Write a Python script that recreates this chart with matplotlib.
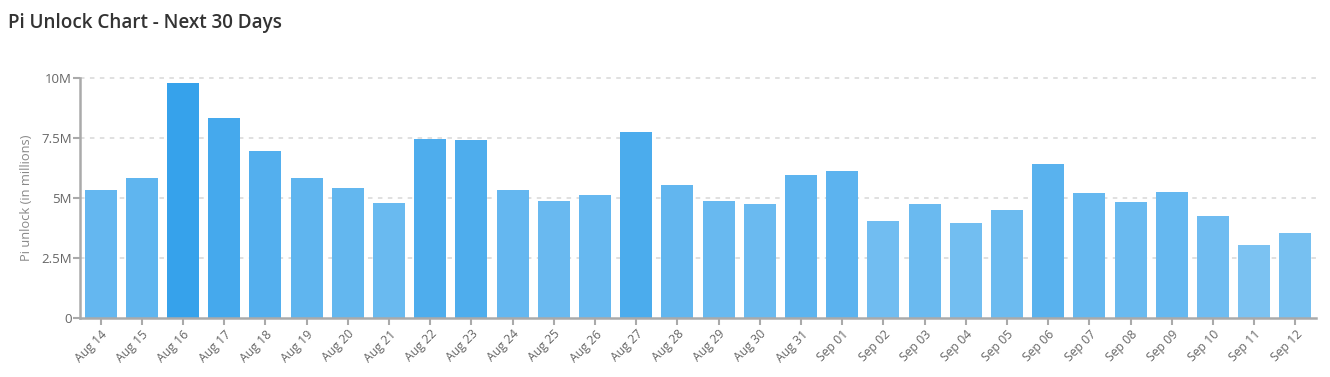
import numpy as np
import matplotlib.pyplot as plt
from matplotlib.ticker import FixedLocator

plt.rcParams['font.family'] = ['Open Sans', 'DejaVu Sans']

# dates and unlock amounts (millions of Pi)
days = ['Aug 14', 'Aug 15', 'Aug 16', 'Aug 17', 'Aug 18', 'Aug 19', 'Aug 20',
        'Aug 21', 'Aug 22', 'Aug 23', 'Aug 24', 'Aug 25', 'Aug 26', 'Aug 27',
        'Aug 28', 'Aug 29', 'Aug 30', 'Aug 31', 'Sep 01', 'Sep 02', 'Sep 03',
        'Sep 04', 'Sep 05', 'Sep 06', 'Sep 07', 'Sep 08', 'Sep 09', 'Sep 10',
        'Sep 11', 'Sep 12']
unlock = [5.33, 5.83, 9.79, 8.32, 6.97, 5.83, 5.40, 4.79, 7.47, 7.42,
          5.33, 4.86, 5.14, 7.75, 5.54, 4.89, 4.75, 5.96, 6.12, 4.04,
          4.74, 3.94, 4.50, 6.42, 5.19, 4.82, 5.24, 4.25, 3.04, 3.54]
yticks = [0, 2.5, 5, 7.5, 10]
ytick_labels = ['0', '2.5M', '5M', '7.5M', '10M']

vals = np.array(unlock)
# darker blue for bigger unlocks
alpha = 0.5 + 0.5 * vals / vals.max()
base = np.array([54, 162, 235]) / 255
colors = [tuple(1 - a * (1 - base)) for a in alpha]

fig = plt.figure(figsize=(13.3, 3.77), dpi=100)
ax = fig.add_axes([80 / 1330, 1 - 318 / 377, 1236 / 1330, 240 / 377])

x = np.arange(len(days))
ax.bar(x, vals, width=0.78, color=colors, zorder=2)

ax.set_xlim(-0.5, len(days) - 0.5)
ax.set_ylim(0, 10)
ax.yaxis.set_major_locator(FixedLocator(yticks))
ax.set_yticklabels(ytick_labels)
ax.set_xticks(x)
ax.set_xticklabels(days, rotation=45, ha='right', rotation_mode='anchor')

for y in yticks[1:]:
    ax.axhline(y, color='#dddddd', lw=1.3, ls=(0, (2.5, 3)), zorder=1, clip_on=False)

for s in ['top', 'right']:
    ax.spines[s].set_visible(False)
for s in ['left', 'bottom']:
    ax.spines[s].set_color('#aaaaaa')
    ax.spines[s].set_linewidth(1.8)

ax.tick_params(axis='both', colors='#aaaaaa', width=1.5, length=5)
ax.tick_params(axis='y', labelsize=9.5, labelcolor='#666666', pad=1)
ax.tick_params(axis='x', labelsize=8.8, labelcolor='#666666', pad=2)

ax.set_ylabel('Pi unlock (in millions)', fontsize=9.3, color='#888888', labelpad=6)

fig.text(8 / 1330, 1 - 23 / 377, 'Pi Unlock Chart - Next 30 Days', fontsize=13.6,
         fontweight='semibold', color='#333333', va='center', ha='left')

fig.savefig('out.png', dpi=100)
